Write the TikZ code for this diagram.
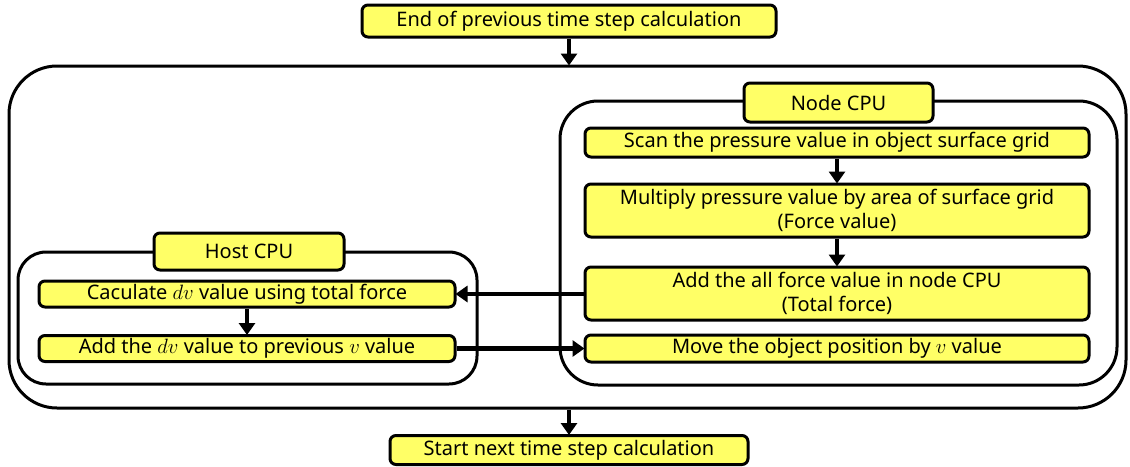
\documentclass[tikz,border=0pt]{standalone}
\usepackage{fontspec}
\setmainfont{Noto Sans}
\usetikzlibrary{arrows.meta}
\definecolor{boxyellow}{RGB}{255,255,102}
\tikzset{
  ybox/.style={draw=black, line width=3pt, fill=boxyellow, rounded corners=6pt,
    inner sep=0pt, align=center, font=\fontsize{20}{24}\selectfont},
  container/.style={draw=black, line width=3pt, inner sep=0pt},
  flow/.style={line width=4.5pt, -{Triangle[length=12pt,width=16pt]}, shorten >=-1pt}
}
\begin{document}
\begin{tikzpicture}[x=1pt,y=-1pt]
\useasboundingbox (0,0) rectangle (1130,466);
% containers
\node[container, rounded corners=48pt, minimum width=1117pt, minimum height=342pt] (outer) at (567.5,237) {};
\node[container, rounded corners=38pt, minimum width=557pt, minimum height=284pt] (nodecpu) at (838.5,243) {};
\node[container, rounded corners=28pt, minimum width=459pt, minimum height=132pt] (hostcpu) at (247.5,318) {};
% top/bottom
\node[ybox, minimum width=414pt, minimum height=32pt] (top) at (569,21) {End of previous time step calculation};
\node[ybox, minimum width=358pt, minimum height=29pt] (bot) at (569,450) {Start next time step calculation};
% headers
\node[ybox, minimum width=189pt, minimum height=39pt] (nodehdr) at (838.5,102.5) {Node CPU};
\node[ybox, minimum width=190pt, minimum height=37pt] (hosthdr) at (249,251.5) {Host CPU};
% node cpu boxes
\node[ybox, minimum width=504pt, minimum height=29pt] (scan) at (837,142.5) {Scan the pressure value in object surface grid};
\node[ybox, minimum width=504pt, minimum height=53pt] (mult) at (837,210.5) {Multiply pressure value by area of surface grid\\(Force value)};
\node[ybox, minimum width=504pt, minimum height=53pt] (total) at (837,293.5) {Add the all force value in node CPU\\(Total force)};
\node[ybox, minimum width=504pt, minimum height=27pt] (move) at (837,348.5) {Move the object position by $v$ value};
% host cpu boxes
\node[ybox, minimum width=416pt, minimum height=26pt] (calc) at (247,294) {Caculate $dv$ value using total force};
\node[ybox, minimum width=416pt, minimum height=26pt] (addv) at (247,348.5) {Add the $dv$ value to previous $v$ value};
% connectors
\coordinate (outtop) at (top.south |- outer.north);
\coordinate (outbot) at (bot.north |- outer.south);
\draw[flow] (top.south) -- (outtop);
\draw[flow] (outbot) -- (bot.north);
\draw[flow] (scan.south) -- (mult.north);
\draw[flow] (mult.south) -- (total.north);
\draw[flow] (calc.south) -- (addv.north);
\draw[flow] (calc.east -| total.west) -- (calc.east);
\draw[flow] (addv.east) -- (move.west);
\end{tikzpicture}
\end{document}
